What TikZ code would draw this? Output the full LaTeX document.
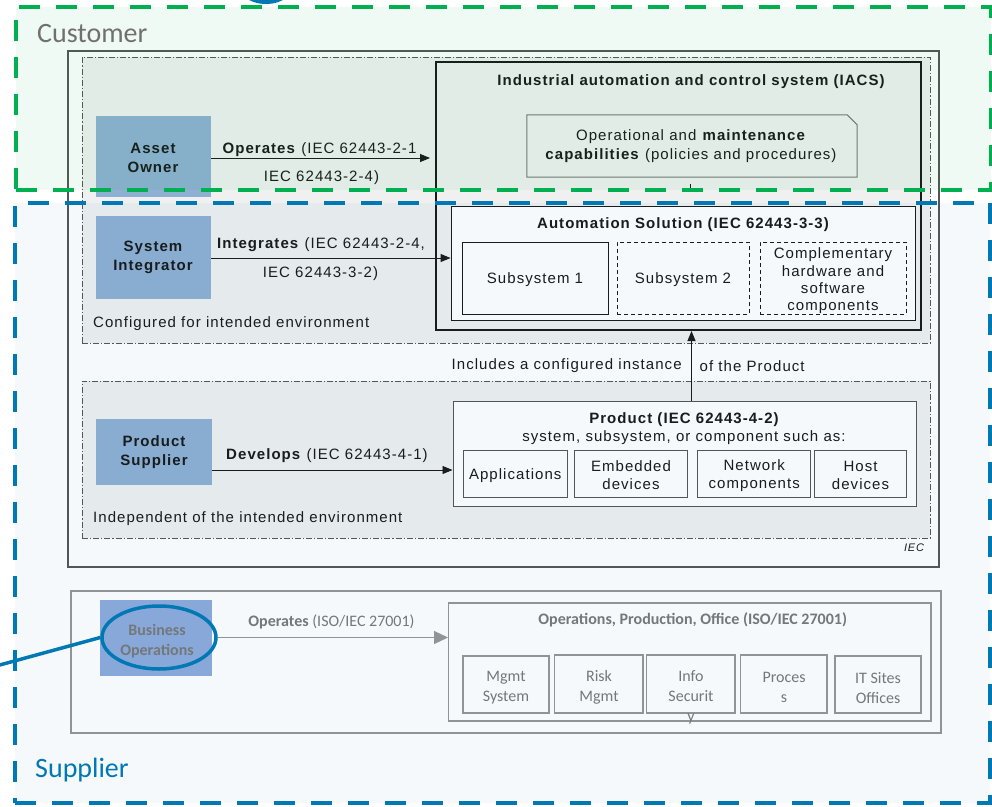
\documentclass[tikz,border=0pt]{standalone}
\usepackage{fontspec}
\setmainfont{Liberation Sans}[LetterSpace=7]
\newfontfamily\calfont{Carlito}
\usetikzlibrary{arrows.meta,fit,shapes.geometric,calc}

\definecolor{custgreen}{RGB}{0,176,80}
\definecolor{supblue}{RGB}{0,120,180}
\definecolor{custgray}{RGB}{112,112,112}
\definecolor{ownerblue}{RGB}{143,176,210}
\definecolor{bizblue}{RGB}{143,170,220}
\definecolor{ink}{RGB}{25,25,25}
\definecolor{framegray}{RGB}{85,85,85}
\definecolor{midgray}{RGB}{120,120,120}
\definecolor{faint}{RGB}{120,120,120}
\definecolor{faintline}{RGB}{150,150,150}
\definecolor{envgray}{RGB}{239,240,239}

\tikzset{
  lbl/.style={inner sep=0pt, text=ink, font=\fontsize{15}{19}\selectfont, align=center, yshift=-2pt},
  blbl/.style={lbl, font=\bfseries\fontsize{15}{19}\selectfont},
  calbl/.style={inner sep=0pt, text=faint, font=\calfont\fontsize{16}{20}\selectfont, align=center, yshift=-2pt},
  bcalbl/.style={calbl, font=\calfont\bfseries\fontsize{16}{20}\selectfont},
  outerframe/.style={draw=framegray, line width=1.2pt, inner sep=0pt},
  envbox/.style={draw=framegray, line width=0.8pt, dash pattern=on 6pt off 2pt on 1.2pt off 2pt, fill=envgray, inner sep=0pt},
  whitebox/.style={draw=ink, line width=0.9pt, fill=white, inner sep=0pt},
  dashbox/.style={whitebox, dash pattern=on 4pt off 3pt},
  itembox/.style={draw=framegray, line width=1pt, fill=white, inner sep=0pt},
  rolebox/.style={fill=ownerblue, inner sep=0pt, text=ink, align=center, font=\bfseries\fontsize{15}{19}\selectfont},
  flow/.style={draw=ink, line width=0.9pt, -{Triangle[length=10pt,width=8pt]}},
  greyflow/.style={draw=faintline, line width=1.2pt, -{Triangle[length=14pt,width=13pt]}},
  greybox/.style={draw=faintline, line width=1.2pt, inner sep=0pt},
  region/.style={draw=#1, line width=4pt, dash pattern=on 21pt off 16pt, inner sep=0pt},
}

\begin{document}
\begin{tikzpicture}[x=1pt,y=-1pt]
\useasboundingbox (0,0) rectangle (992,806);
\begin{scope}
\clip (0,0) rectangle (992,806);
\fill[white] (0,0) rectangle (992,806);

% ---------- IEC 62443 roles frame ----------
\node[outerframe, fit={(68,51)(939,567)}] (iecframe) {};
\node[envbox, fit={(82,57)(930,343)}] (envcfg) {};
\node[envbox, fit={(82,381)(930,538)}] (envind) {};

% IACS
\node[draw=ink, line width=2pt, inner sep=0pt, fit={(436,62)(921,330)}] (iacs) {};
\node[blbl] (iacstitle) at (691,80) {Industrial automation and control system (IACS)};

\node[inner sep=0pt, fit={(527,115)(857,177)}] (opcap) {};
\draw[midgray, line width=1pt, fill=envgray]
  (opcap.north west) -- ($(opcap.north east)+(-10,0)$) -- ($(opcap.north east)+(0,10)$)
  -- (opcap.south east) -- (opcap.south west) -- cycle;
\node[lbl] (opcaptext) at (691,144) {Operational and \textbf{maintenance}\\\textbf{capabilities} (policies and procedures)};
\draw[ink, line width=1pt] (686,188) -- (694,188) (690,184) -- (690,192);

% Automation solution
\node[whitebox, fit={(451,206)(915,320)}] (autosol) {};
\node[blbl] (autotitle) at (683,223) {Automation Solution (IEC 62443-3-3)};
\node[whitebox, fit={(462,242)(608,314)}] (sub1) {};
\node[lbl] at (sub1.center) {Subsystem 1};
\node[dashbox, fit={(617,242)(749,314)}] (sub2) {};
\node[lbl] at (sub2.center) {Subsystem 2};
\node[dashbox, fit={(760,242)(906,314)}] (compl) {};
\node[lbl, font=\fontsize{15}{17.3}\selectfont] at (833,279) {Complementary\\hardware and\\software\\components};

% Asset owner
\node[rolebox, fit={(96,116)(211,197)}] (owner) {};
\node[rolebox, fill=none, yshift=-1pt] at (153,156.5) {Asset\\Owner};
\coordinate (opY) at (0,158);
\draw[flow, shorten >=5pt] (owner.east |- opY) -- (iacs.west |- opY);
\node[lbl] at (319.5,148) {\textbf{Operates} (IEC 62443-2-1};
\node[lbl] at (321.5,176) {IEC 62443-2-4)};

% System integrator
\node[rolebox, fit={(96,216)(211,299)}] (integrator) {};
\node[rolebox, fill=none, yshift=-1pt] at (153,256.5) {System\\Integrator};
\coordinate (intY) at (0,258);
\draw[flow] (integrator.east |- intY) -- (autosol.west |- intY);
\node[lbl] at (321,243) {\textbf{Integrates} (IEC 62443-2-4,};
\node[lbl] at (320.5,272) {IEC 62443-3-2)};
\node[lbl, anchor=west] at (93,322) {Configured for intended environment};

% Includes
\node[lbl, anchor=west] at (451.5,364) {Includes a configured instance};
\node[lbl, anchor=west] at (699.5,364) {of the Product};

% Product supplier
\node[rolebox, fit={(96,419)(212,485)}] (supplierbox) {};
\node[rolebox, fill=none, yshift=-1pt] at (154,451.5) {Product\\Supplier};
\node[itembox, fit={(453,401)(916,506)}] (product) {};
\node[blbl] at (684,418) {Product (IEC 62443-4-2)};
\node[lbl] at (684,436) {system, subsystem, or component such as:};
\node[itembox, fit={(463,450)(567.5,497)}] (apps) {};
\node[lbl] at (apps.center) {Applications};
\node[itembox, fit={(574.5,450)(687.5,497)}] (embedded) {};
\node[lbl, font=\fontsize{15}{18}\selectfont] at (embedded.center) {Embedded\\devices};
\node[itembox, fit={(697.7,450)(810.8,497)}] (network) {};
\node[lbl, font=\fontsize{15}{18}\selectfont] at (network.center) {Network\\components};
\node[itembox, fit={(814.6,450)(906.5,497)}] (host) {};
\node[lbl, font=\fontsize{15}{18}\selectfont] at (host.center) {Host\\devices};

\coordinate (devY) at (0,470);
\draw[flow] (supplierbox.east |- devY) -- (product.west |- devY);
\node[lbl] at (327,454) {\textbf{Develops} (IEC 62443-4-1)};
\node[lbl, anchor=west] at (93,517) {Independent of the intended environment};

\coordinate (upX) at (691.5,0);
\draw[flow] (product.north -| upX) -- (iacs.south -| upX);

\node[lbl, font=\itshape\fontsize{11}{13}\selectfont] at (914,546) {IEC};

% ---------- business operations ----------
\node[greybox, fit={(71,591)(941,733)}] (bizframe) {};
\node[fill=bizblue, inner sep=0pt, fit={(100,600)(212,676)}] (bizbox) {};
\node[bcalbl] at (157,639) {Business\\Operations};
\node[draw=supblue, line width=3.5pt, ellipse, minimum width=114pt, minimum height=63pt, inner sep=0pt] (bizring) at (159,637.5) {};
\coordinate (calloutend) at (-4,666);
\draw[supblue, line width=3.5pt] (bizring.west) -- (calloutend);

\node[greybox, fit={(448.6,603)(931,721)}] (isms) {};
\node[bcalbl] at (692.7,618) {Operations, Production, Office (ISO/IEC 27001)};
\draw[greyflow] (bizring.east) -- (isms.west |- bizring.east);
\node[calbl] at (331.5,620) {\textbf{Operates} (ISO/IEC 27001)};

\node[greybox, fit={(463,656)(549,713)}] (mgmt) {};
\node[calbl] at (506,685.7) {Mgmt\\System};
\node[greybox, fit={(554.7,655)(643,713)}] (risk) {};
\node[calbl] at (599,685) {Risk\\Mgmt};
\node[greybox, fit={(646.8,655)(735,713)}] (info) {};
\node[calbl] at (691,695) {Info\\Securit\\y};
\node[greybox, fit={(740.4,655)(827,713)}] (proc) {};
\node[calbl] at (784,685) {Proces\\s};
\node[greybox, fit={(835,656)(921,713)}] (itsites) {};
\node[calbl] at (878,685.7) {IT Sites\\Offices};

% ---------- customer / supplier regions ----------
\fill[custgreen, fill opacity=0.06] (16,7) rectangle (991,190);
\fill[supblue, fill opacity=0.04] (15,203) rectangle (990,803);
\node[region=custgreen, fit={(16,7)(991,190)}] (customer) {};
\node[region=supblue, fit={(15,203)(990,803)}] (supplier) {};
\node[inner sep=0pt, anchor=west, text=custgray, font=\calfont\fontsize{28}{32}\selectfont] at (37,33.5) {Customer};
\node[inner sep=0pt, anchor=base west, text=supblue, font=\calfont\fontsize{28}{32}\selectfont] at (35,777) {Supplier};

\draw[supblue, line width=4pt] (266,-22) ellipse [x radius=30, y radius=24];
\end{scope}
\end{tikzpicture}
\end{document}
